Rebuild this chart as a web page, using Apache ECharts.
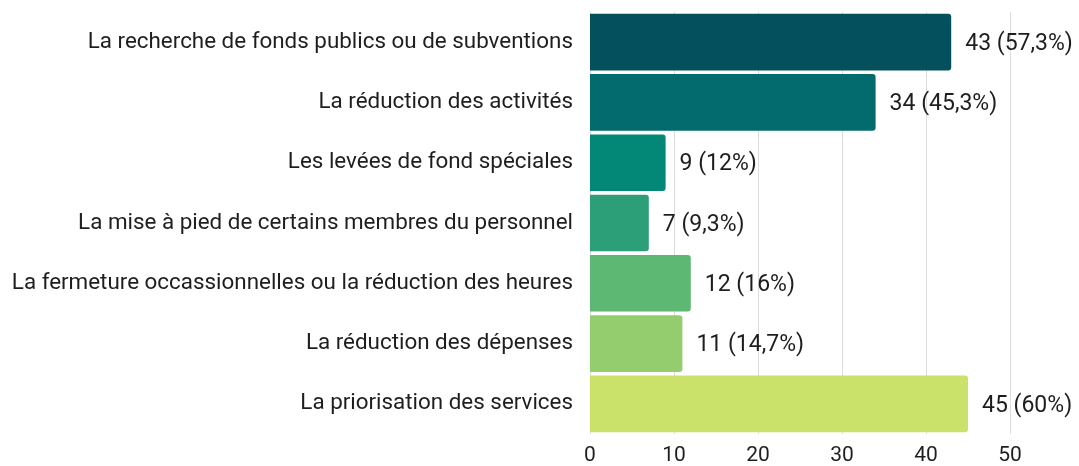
<!DOCTYPE html>
<html>
<head>
<meta charset="utf-8">
<script src="https://cdn.jsdelivr.net/npm/echarts@6/dist/echarts.min.js"></script>
<style>
  html, body { margin: 0; padding: 0; background: #fff; }
  #chart { width: 1079px; height: 466px; }
</style>
</head>
<body>
<div id="chart"></div>
<script>
// catégories et valeurs
const categories = [
  'La recherche de fonds publics ou de subventions',
  'La réduction des activités',
  'Les levées de fond spéciales',
  'La mise à pied de certains membres du personnel',
  'La fermeture occassionnelles ou la réduction des heures',
  'La réduction des dépenses',
  'La priorisation des services'
];
const counts = [43, 34, 9, 7, 12, 11, 45];
const percents = ['57,3', '45,3', '12', '9,3', '16', '14,7', '60'];
const xTicks = [0, 10, 20, 30, 40, 50];

const barColors = ['#04515d', '#036b6d', '#038777', '#2c9e78', '#5db874', '#93cd6e', '#cbe26a'];

const chart = echarts.init(document.getElementById('chart'));
const option = {
  animation: false,
  textStyle: { fontFamily: 'Roboto' },
  grid: { left: 590, right: 69, top: 12, bottom: 31, containLabel: false },
  xAxis: {
    type: 'value',
    min: xTicks[0],
    max: xTicks[xTicks.length - 1],
    interval: 10,
    axisLine: { show: false },
    axisTick: { show: false },
    splitLine: { lineStyle: { color: '#dcdcdc', width: 1 } },
    axisLabel: { color: '#1e1e1e', fontSize: 21, margin: 11 }
  },
  yAxis: {
    type: 'category',
    inverse: true,
    data: categories,
    axisLine: { show: false },
    axisTick: { show: false },
    axisLabel: { color: '#1e1e1e', fontSize: 22.4, margin: 17 }
  },
  series: [{
    type: 'bar',
    barCategoryGap: '6%',
    data: counts.map((v, i) => ({
      value: v,
      itemStyle: { color: barColors[i], borderRadius: [0, 3, 3, 0] }
    })),
    label: {
      show: true,
      position: 'right',
      distance: 14,
      color: '#1e1e1e',
      fontSize: 23,
      offset: [0, 2],
      formatter: p => counts[p.dataIndex] + ' (' + percents[p.dataIndex] + '%)'
    }
  }]
};
chart.setOption(option);
</script>
</body>
</html>
